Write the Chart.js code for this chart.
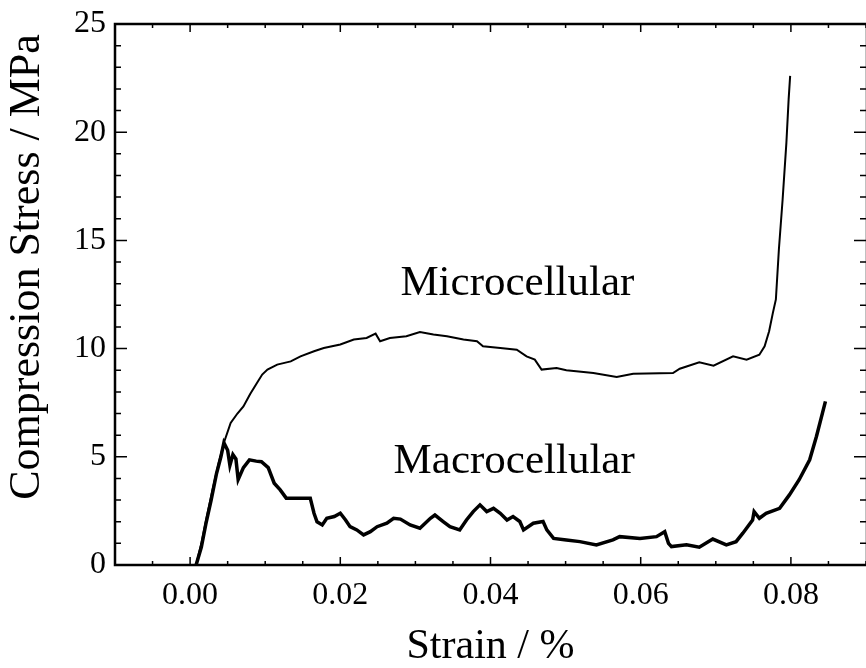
<!DOCTYPE html>
<html>
<head>
<meta charset="utf-8">
<script src="https://cdn.jsdelivr.net/npm/chart.js@4/dist/chart.umd.min.js"></script>
<style>
  html, body { margin: 0; padding: 0; background: #fff; overflow: hidden; }
  #wrap { width: 866px; height: 668px; }
</style>
</head>
<body>
<div id="wrap"><canvas id="c" width="866" height="668"></canvas></div>
<script>
// ---- Data ----
const microStrain = [0.0008,0.0015,0.0022,0.0030,0.0038,0.0045,0.0054,0.0063,0.0071,0.0080,0.0089,0.0096,0.0103,0.0116,0.0134,0.0147,0.0165,0.0178,0.0200,0.0218,0.0235,0.0247,0.0253,0.0266,0.0288,0.0306,0.0324,0.0342,0.0364,0.0382,0.0390,0.0413,0.0435,0.0448,0.0459,0.0468,0.0488,0.0501,0.0537,0.0568,0.0590,0.0643,0.0652,0.0678,0.0697,0.0723,0.0741,0.0758,0.0765,0.0771,0.0776,0.0780,0.0784,0.0789,0.0794,0.0797,0.0799];
const microStress = [0,1.0,2.2,3.5,4.7,5.65,6.56,7.0,7.33,7.9,8.41,8.8,9.03,9.26,9.41,9.64,9.88,10.03,10.19,10.42,10.49,10.69,10.34,10.49,10.57,10.77,10.65,10.57,10.42,10.34,10.11,10.03,9.95,9.64,9.49,9.03,9.10,9.0,8.87,8.69,8.84,8.87,9.07,9.37,9.21,9.64,9.49,9.72,10.11,10.8,11.65,12.27,14.58,16.9,19.52,21.53,22.6];

const macroStrain = [0.0008,0.0015,0.0021,0.0028,0.0035,0.0041,0.0045,0.0050,0.0053,0.0057,0.0061,0.0064,0.0071,0.0079,0.0088,0.0095,0.0104,0.0112,0.0120,0.0128,0.0147,0.0160,0.0165,0.0169,0.0176,0.0182,0.0192,0.0200,0.0207,0.0213,0.0222,0.0231,0.0240,0.0249,0.0262,0.0271,0.0280,0.0293,0.0306,0.0320,0.0326,0.0337,0.0346,0.0359,0.0368,0.0377,0.0386,0.0395,0.0404,0.0413,0.0422,0.0430,0.0439,0.0444,0.0457,0.0470,0.0475,0.0484,0.0501,0.0519,0.0541,0.0563,0.0572,0.0599,0.0621,0.0632,0.0637,0.0641,0.0661,0.0678,0.0696,0.0714,0.0727,0.0736,0.0749,0.0751,0.0758,0.0767,0.0785,0.0798,0.0811,0.0825,0.0834,0.0842,0.0846];
const macroStress = [0,0.83,1.9,3.0,4.2,5.0,5.65,5.3,4.6,5.1,4.9,3.95,4.5,4.86,4.8,4.77,4.5,3.78,3.47,3.09,3.09,3.09,2.39,2.0,1.85,2.16,2.24,2.39,2.08,1.77,1.62,1.39,1.54,1.77,1.93,2.16,2.12,1.85,1.7,2.16,2.31,2.01,1.77,1.62,2.08,2.47,2.78,2.47,2.62,2.39,2.08,2.24,2.01,1.62,1.93,2.01,1.62,1.23,1.16,1.08,0.93,1.16,1.31,1.23,1.31,1.54,1.0,0.85,0.93,0.82,1.2,0.93,1.08,1.47,2.08,2.47,2.16,2.39,2.62,3.24,3.94,4.86,5.94,7.02,7.56];

const xLabels = ['0.00','0.02','0.04','0.06','0.08'];
const yLabels = ['0','5','10','15','20','25'];
const seriesNames = ['Microcellular','Macrocellular'];
const xTitle = 'Strain / %';
const yTitle = 'Compression Stress / MPa';

const X_MIN = -0.01, X_MAX = 0.09, Y_MIN = 0, Y_MAX = 25;
// in-plot text labels (data coordinates)
const curveLabels = [
  { text: seriesNames[0], x: 0.0280, y: 12.5 },
  { text: seriesNames[1], x: 0.0271, y: 4.26 }
];

const SERIF = "'Liberation Serif', 'DejaVu Serif', serif";

const toPts = (xs, ys) => xs.map((x, i) => ({ x: x, y: ys[i] }));

const frameTicks = {
  id: 'frameTicks',
  afterDraw(chart) {
    const { ctx, chartArea: a, scales } = chart;
    const xs = scales.x, ys = scales.y;
    ctx.save();
    ctx.strokeStyle = '#000';
    ctx.lineWidth = 2.5;
    ctx.strokeRect(a.left, a.top, a.right - a.left + 1, a.bottom - a.top);
    ctx.lineWidth = 1.5;
    ctx.beginPath();
    xs.ticks.forEach(t => {
      const px = xs.getPixelForValue(t.value);
      const major = Math.abs(Math.round(t.value * 1000) % 20) === 0;
      const L = major ? 8 : 4;
      ctx.moveTo(px, a.bottom); ctx.lineTo(px, a.bottom - L);
      ctx.moveTo(px, a.top); ctx.lineTo(px, a.top + L);
    });
    ys.ticks.forEach(t => {
      const py = ys.getPixelForValue(t.value);
      const major = Math.round(t.value) % 5 === 0;
      const L = major ? 12 : 6;
      ctx.moveTo(a.left, py); ctx.lineTo(a.left + L, py);
      ctx.moveTo(a.right, py); ctx.lineTo(a.right - L, py);
    });
    ctx.stroke();

    // y axis title
    ctx.fillStyle = '#000';
    ctx.font = '44px ' + SERIF;
    ctx.textAlign = 'center';
    ctx.textBaseline = 'middle';
    ctx.translate(27, 267);
    ctx.rotate(-Math.PI / 2);
    ctx.fillText(yTitle, 0, 0);
    ctx.restore();

    // curve labels
    ctx.save();
    ctx.fillStyle = '#000';
    ctx.font = '43px ' + SERIF;
    ctx.textAlign = 'left';
    ctx.textBaseline = 'alphabetic';
    curveLabels.forEach(l => {
      ctx.fillText(l.text, xs.getPixelForValue(l.x), ys.getPixelForValue(l.y));
    });
    ctx.restore();
  }
};

new Chart(document.getElementById('c'), {
  type: 'scatter',
  data: {
    datasets: [
      { label: seriesNames[0], data: toPts(microStrain, microStress), showLine: true,
        borderColor: '#000', borderWidth: 2, pointRadius: 0, tension: 0, fill: false },
      { label: seriesNames[1], data: toPts(macroStrain, macroStress), showLine: true,
        borderColor: '#000', borderWidth: 3.5, pointRadius: 0, tension: 0, fill: false }
    ]
  },
  options: {
    responsive: false,
    animation: false,
    layout: { autoPadding: false, padding: { top: 24, right: 0, left: 0, bottom: 0 } },
    plugins: { legend: { display: false }, tooltip: { enabled: false } },
    scales: {
      x: {
        type: 'linear', min: X_MIN, max: X_MAX,
        afterBuildTicks(scale) {
          const t = [];
          for (let i = -2; i <= 18; i++) t.push({ value: i / 200 });
          scale.ticks = t;
        },
        afterFit(scale) {
          scale.height = 103;
          scale.paddingLeft = 0; scale.paddingRight = 0;
        },
        grid: { display: false, drawTicks: false },
        border: { display: false },
        ticks: {
          autoSkip: false, maxRotation: 0, padding: 11, color: '#000',
          font: { family: SERIF, size: 32 },
          callback(v) {
            const s = v.toFixed(2);
            return xLabels.includes(s) && Math.abs(Math.round(v * 1000) % 20) === 0 ? s : '';
          }
        },
        title: { display: true, text: xTitle, color: '#000',
          font: { family: SERIF, size: 42, lineHeight: 1 }, padding: { top: 0, bottom: 0 } }
      },
      y: {
        type: 'linear', min: Y_MIN, max: Y_MAX,
        afterBuildTicks(scale) {
          const t = [];
          for (let i = 0; i <= 25; i++) t.push({ value: i });
          scale.ticks = t;
        },
        afterFit(scale) {
          scale.width = 115;
          scale.paddingTop = 0; scale.paddingBottom = 0;
        },
        grid: { display: false, drawTicks: false },
        border: { display: false },
        ticks: {
          autoSkip: false, padding: 9, color: '#000',
          font: { family: SERIF, size: 32 },
          callback(v) {
            const s = String(Math.round(v));
            return yLabels.includes(s) ? s : '';
          }
        }
      }
    }
  },
  plugins: [frameTicks]
});
</script>
</body>
</html>
